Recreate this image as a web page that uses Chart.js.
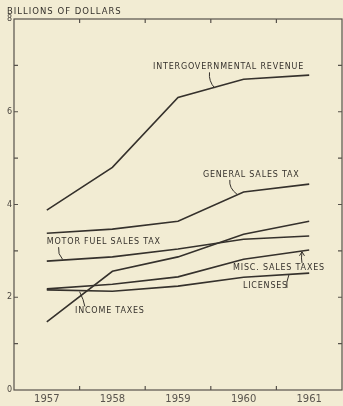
<!DOCTYPE html>
<html>
<head>
<meta charset="utf-8">
<script src="https://cdn.jsdelivr.net/npm/chart.js@4.4.1/dist/chart.umd.min.js"></script>
<style>
  html, body { margin: 0; padding: 0; background: #f2ecd3; }
  #wrap { width: 343px; height: 406px; }
</style>
</head>
<body>
<div id="wrap"><canvas id="chart" width="343" height="406"></canvas></div>
<script>
// Values (billions of dollars)
const years = ['1957', '1958', '1959', '1960', '1961'];
const intergovernmental = [3.88, 4.80, 6.31, 6.70, 6.79];
const generalSales = [3.38, 3.47, 3.64, 4.27, 4.44];
const motorFuel = [2.78, 2.87, 3.04, 3.25, 3.32];
const incomeTaxes = [1.47, 2.56, 2.87, 3.36, 3.64];
const miscSales = [2.18, 2.28, 2.44, 2.82, 3.02];
const licenses = [2.16, 2.13, 2.24, 2.43, 2.52];
const yLabels = [0, 2, 4, 6, 8];

const paper = '#f2ecd3';
const ink = '#35312c';
const font = '"DejaVu Sans", sans-serif';

// Hand-lettered labels, placed in data units (x = year index, y = value)
const notes = [
    { text: 'INTERGOVERNMENTAL REVENUE', x: 1.62, y: 6.96, lead: [[2.48, 6.85], [2.56, 6.51]] },
    { text: 'GENERAL SALES TAX', x: 2.38, y: 4.63, lead: [[2.79, 4.53], [2.90, 4.22]] },
    { text: 'MOTOR FUEL SALES TAX', x: 0, y: 3.19, lead: [[0.18, 3.08], [0.24, 2.82]] },
    { text: 'MISC. SALES TAXES', x: 2.84, y: 2.63, lead: [[3.89, 2.74], [3.89, 2.98]], arrow: true },
    { text: 'LICENSES', x: 2.99, y: 2.24, lead: [[3.66, 2.20], [3.69, 2.48]] },
    { text: 'INCOME TAXES', x: 0.43, y: 1.70, lead: [[0.58, 1.80], [0.50, 2.12]] }
];

const frame = {
    id: 'frame',
    beforeDraw(chart) {
        const c = chart.ctx;
        c.save();
        c.fillStyle = paper;
        c.fillRect(0, 0, chart.width, chart.height);
        c.restore();
    },
    afterDraw(chart) {
        const { ctx, chartArea: a, scales: { x, y } } = chart;
        ctx.save();
        ctx.strokeStyle = '#57524b';
        ctx.lineWidth = 1.2;
        ctx.strokeRect(a.left, a.top, a.right - a.left, a.bottom - a.top);

        // inward tick marks on all four sides
        ctx.beginPath();
        for (let v = 1; v < 8; v++) {
            const py = y.getPixelForValue(v);
            ctx.moveTo(a.left, py); ctx.lineTo(a.left + 4, py);
            ctx.moveTo(a.right, py); ctx.lineTo(a.right - 4, py);
        }
        for (let i = 0; i < years.length - 1; i++) {
            const px = (x.getPixelForValue(i) + x.getPixelForValue(i + 1)) / 2;
            ctx.moveTo(px, a.bottom); ctx.lineTo(px, a.bottom - 4);
            ctx.moveTo(px, a.top); ctx.lineTo(px, a.top + 4);
        }
        ctx.stroke();

        ctx.fillStyle = ink;
        ctx.textBaseline = 'middle';
        ctx.letterSpacing = '1px';
        ctx.font = '8.5px ' + font;
        ctx.fillText('BILLIONS OF DOLLARS', 7, 12);

        ctx.letterSpacing = '0.8px';
        ctx.font = '8px ' + font;
        ctx.strokeStyle = ink;
        ctx.lineWidth = 1;
        notes.forEach(n => {
            ctx.fillText(n.text, x.getPixelForValue(n.x), y.getPixelForValue(n.y));
            const [p0, p1] = n.lead;
            const x0 = x.getPixelForValue(p0[0]), y0 = y.getPixelForValue(p0[1]);
            const x1 = x.getPixelForValue(p1[0]), y1 = y.getPixelForValue(p1[1]);
            ctx.beginPath();
            ctx.moveTo(x0, y0);
            ctx.quadraticCurveTo(x0 - 1, (y0 + y1) / 2 + 1, x1, y1);
            ctx.stroke();
            if (n.arrow) {
                ctx.beginPath();
                ctx.moveTo(x1 - 2.5, y1 + 4);
                ctx.lineTo(x1, y1);
                ctx.lineTo(x1 + 2.5, y1 + 4);
                ctx.stroke();
            }
        });
        ctx.restore();
    }
};

const series = [intergovernmental, generalSales, motorFuel, incomeTaxes, miscSales, licenses];

new Chart(document.getElementById('chart'), {
    type: 'line',
    data: {
        labels: years,
        datasets: series.map(d => ({
            data: d,
            borderColor: ink,
            borderWidth: 1.6,
            pointRadius: 0,
            tension: 0,
            fill: false
        }))
    },
    options: {
        responsive: false,
        animation: false,
        devicePixelRatio: 1,
        layout: { padding: { top: 19, right: 1, left: 0, bottom: 0 } },
        plugins: { legend: { display: false }, tooltip: { enabled: false } },
        scales: {
            x: {
                offset: true,
                grid: { display: false, drawTicks: false },
                border: { display: false },
                ticks: { color: '#5a554e', padding: 3, font: { family: font, size: 10 } },
                afterFit: s => { s.height = 16; }
            },
            y: {
                min: 0,
                max: 8,
                grid: { display: false, drawTicks: false },
                border: { display: false },
                ticks: {
                    stepSize: 1,
                    padding: 2,
                    color: '#4a453f',
                    font: { family: font, size: 8 },
                    callback: v => yLabels.includes(v) ? v : ''
                },
                afterFit: s => { s.width = 14; }
            }
        }
    },
    plugins: [frame]
});
</script>
</body>
</html>
